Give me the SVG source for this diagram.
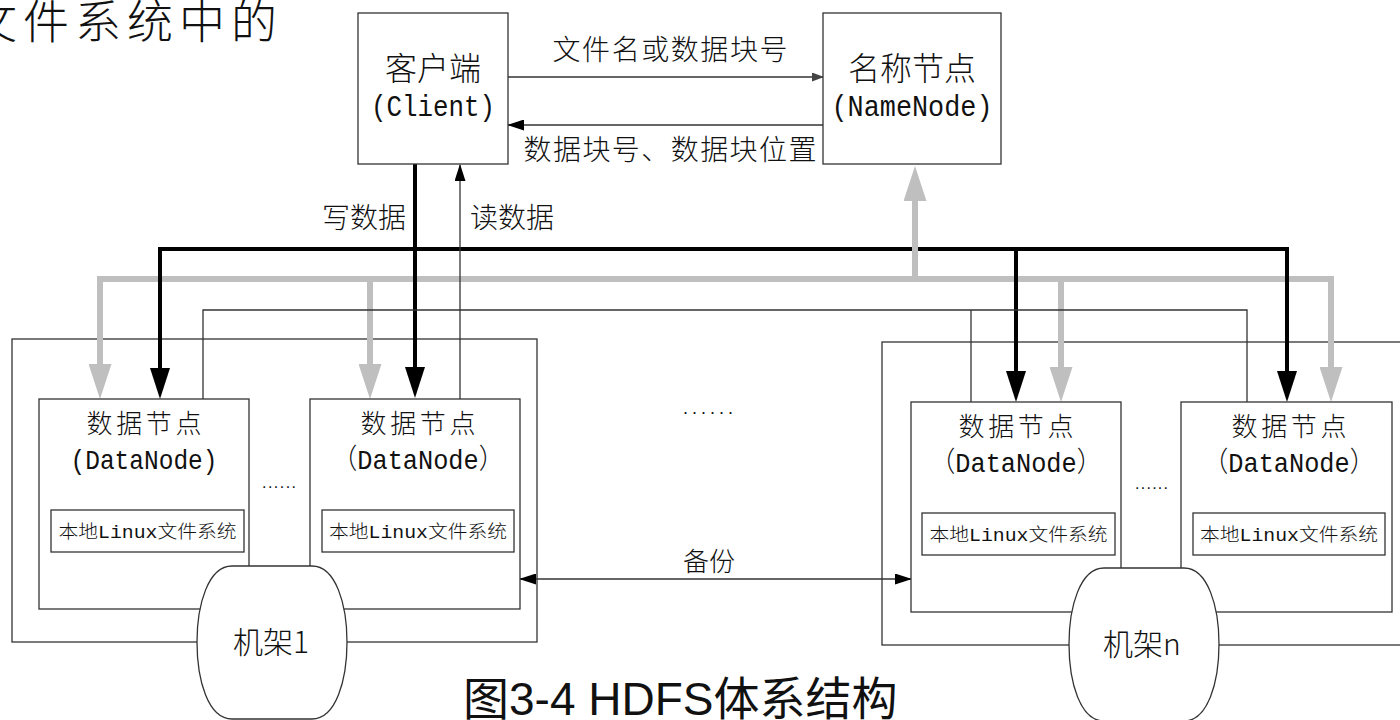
<svg xmlns="http://www.w3.org/2000/svg" width="1400" height="720" viewBox="0 0 1400 720">
<defs>
<style>
.bx{fill:#fff;stroke:#333;stroke-width:1.3}
.frame{fill:none;stroke:#333;stroke-width:1.3}
.thin{fill:none;stroke:#333;stroke-width:1.3}
.gbus{fill:none;stroke:#bfbfbf;stroke-width:6}
.kbus{fill:none;stroke:#000;stroke-width:4}
.cn{font-family:"Noto Sans CJK SC",sans-serif;font-weight:300;fill:#111}
.mx{font-family:"Liberation Mono","Noto Sans CJK SC",monospace;font-weight:300;fill:#111}
.cap{font-family:"Liberation Sans","Noto Sans CJK SC",sans-serif;fill:#111}
</style>
<marker id="ahB" viewBox="0 0 31 20" markerWidth="31" markerHeight="20" refX="21" refY="10" markerUnits="userSpaceOnUse" orient="auto-start-reverse"><path d="M0,0 L31,10 L0,20 Z" fill="#000"/></marker>
<marker id="ahG" viewBox="0 0 35 23" markerWidth="35" markerHeight="23" refX="25" refY="11.5" markerUnits="userSpaceOnUse" orient="auto-start-reverse"><path d="M0,0 L35,11.5 L0,23 Z" fill="#bfbfbf"/></marker>
<marker id="ahS" viewBox="0 0 17 11" markerWidth="17" markerHeight="11" refX="16" refY="5.5" markerUnits="userSpaceOnUse" orient="auto-start-reverse"><path d="M0,0 L17,5.5 L0,11 Z" fill="#000"/></marker>
<marker id="ahT" viewBox="0 0 12 9" markerWidth="12" markerHeight="9" refX="11" refY="4.5" markerUnits="userSpaceOnUse" orient="auto-start-reverse"><path d="M0,0 L12,4.5 L0,9 Z" fill="#444"/></marker>
</defs>
<rect width="1400" height="720" fill="#fff"/>

<text class="cn" x="-29" y="38" font-size="46" letter-spacing="6">文件系统中的</text>

<g id="rack1-frame"><rect class="frame" x="12" y="339" width="525" height="303"/></g>
<g id="rackn-frame"><rect class="frame" x="882" y="342" width="530" height="303"/></g>

<g id="connectors">
<path class="gbus" d="M100,389 V279 H1331 V392" marker-start="url(#ahG)" marker-end="url(#ahG)"/>
<path class="gbus" d="M370,279 V389" marker-end="url(#ahG)"/>
<path class="gbus" d="M1061,279 V392" marker-end="url(#ahG)"/>
<path class="kbus" d="M160,389 V249 H1287 V392" marker-start="url(#ahB)" marker-end="url(#ahB)"/>
<path class="kbus" d="M1016,249 V392" marker-end="url(#ahB)"/>
<path class="kbus" d="M415,164 V388" marker-end="url(#ahB)"/>
<path class="gbus" d="M915,279 V176" marker-end="url(#ahG)"/>
<path class="thin" d="M203,399 V310 H1247 V402"/>
<path class="thin" d="M971,310 V402"/>
<path class="thin" stroke="#555" d="M460,399 V165" marker-end="url(#ahS)"/>
<path class="thin" stroke="#666" d="M508,77 H823" marker-end="url(#ahT)"/>
<path class="thin" d="M823,125 H508" marker-end="url(#ahS)"/>
<path class="thin" d="M520,579 H911" marker-start="url(#ahS)" marker-end="url(#ahS)"/>
</g>

<g id="labels">
<text class="cn" x="670" y="60" font-size="28" text-anchor="middle" textLength="235">文件名或数据块号</text>
<text class="cn" x="670" y="160" font-size="28" text-anchor="middle" textLength="293">数据块号、数据块位置</text>
<text class="cn" x="406" y="228" font-size="28" text-anchor="end">写数据</text>
<text class="cn" x="470" y="228" font-size="28">读数据</text>
<text class="cn" x="709" y="571" font-size="26" text-anchor="middle">备份</text>
<text class="cap" x="683" y="414" font-size="18" textLength="50">......</text>
</g>

<g id="client">
<rect class="bx" x="358" y="13" width="150" height="151"/>
<text class="cn" x="433" y="80" font-size="32" text-anchor="middle">客户端</text>
<text class="mx" x="433" y="116" font-size="30" text-anchor="middle" textLength="124" lengthAdjust="spacingAndGlyphs">(Client)</text>
</g>

<g id="namenode">
<rect class="bx" x="823" y="13" width="178" height="151"/>
<text class="cn" x="912" y="80" font-size="32" text-anchor="middle">名称节点</text>
<text class="mx" x="912" y="116" font-size="30" text-anchor="middle" textLength="161" lengthAdjust="spacingAndGlyphs">(NameNode)</text>
</g>

<g id="datanode1">
<rect class="bx" x="39" y="399" width="210" height="210"/>
<text class="cn" x="144" y="433" font-size="26" text-anchor="middle" textLength="115">数据节点</text>
<text class="mx" x="144" y="469" font-size="28" text-anchor="middle" textLength="147" lengthAdjust="spacingAndGlyphs">(DataNode)</text>
<rect class="bx" x="51" y="510" width="193" height="42"/>
<text class="mx" x="147.5" y="538" font-size="18" text-anchor="middle" textLength="178" lengthAdjust="spacingAndGlyphs">本地Linux文件系统</text>
</g>

<g id="datanode2">
<rect class="bx" x="310" y="399" width="210" height="210"/>
<text class="cn" x="418" y="433" font-size="26" text-anchor="middle" textLength="115">数据节点</text>
<text class="mx" x="418" y="469" font-size="28" text-anchor="middle" textLength="172" lengthAdjust="spacingAndGlyphs">（DataNode）</text>
<rect class="bx" x="322" y="510" width="192" height="42"/>
<text class="mx" x="418" y="538" font-size="18" text-anchor="middle" textLength="178" lengthAdjust="spacingAndGlyphs">本地Linux文件系统</text>
</g>

<g id="datanode3">
<rect class="bx" x="911" y="402" width="210" height="210"/>
<text class="cn" x="1016" y="436" font-size="26" text-anchor="middle" textLength="115">数据节点</text>
<text class="mx" x="1016" y="472" font-size="28" text-anchor="middle" textLength="172" lengthAdjust="spacingAndGlyphs">（DataNode）</text>
<rect class="bx" x="922" y="513" width="193" height="42"/>
<text class="mx" x="1018.5" y="541" font-size="18" text-anchor="middle" textLength="178" lengthAdjust="spacingAndGlyphs">本地Linux文件系统</text>
</g>

<g id="datanode4">
<rect class="bx" x="1181" y="402" width="211" height="210"/>
<text class="cn" x="1289" y="436" font-size="26" text-anchor="middle" textLength="115">数据节点</text>
<text class="mx" x="1289" y="472" font-size="28" text-anchor="middle" textLength="172" lengthAdjust="spacingAndGlyphs">（DataNode）</text>
<rect class="bx" x="1193" y="513" width="192" height="42"/>
<text class="mx" x="1289" y="541" font-size="18" text-anchor="middle" textLength="178" lengthAdjust="spacingAndGlyphs">本地Linux文件系统</text>
</g>

<g id="rack1">
<text class="cap" x="262" y="488" font-size="16" textLength="34">......</text>
<path class="bx" d="M232,566 H312 C336,566 347,605 347,642 C347,680 336,719 312,719 H232 C208,719 197,680 197,642 C197,605 208,566 232,566 Z"/>
<text class="cn" x="271" y="653" font-size="30" text-anchor="middle">机架1</text>
</g>

<g id="rackn">
<text class="cap" x="1135" y="489" font-size="16" textLength="33">......</text>
<path class="bx" d="M1104,568 H1184 C1208,568 1219,607 1219,644 C1219,682 1208,721 1184,721 H1104 C1080,721 1069,682 1069,644 C1069,607 1080,568 1104,568 Z"/>
<text class="cn" x="1142" y="655" font-size="30" text-anchor="middle">机架n</text>
</g>

<text class="cap" x="463" y="715" font-size="46">图3-4 HDFS体系结构</text>
</svg>
